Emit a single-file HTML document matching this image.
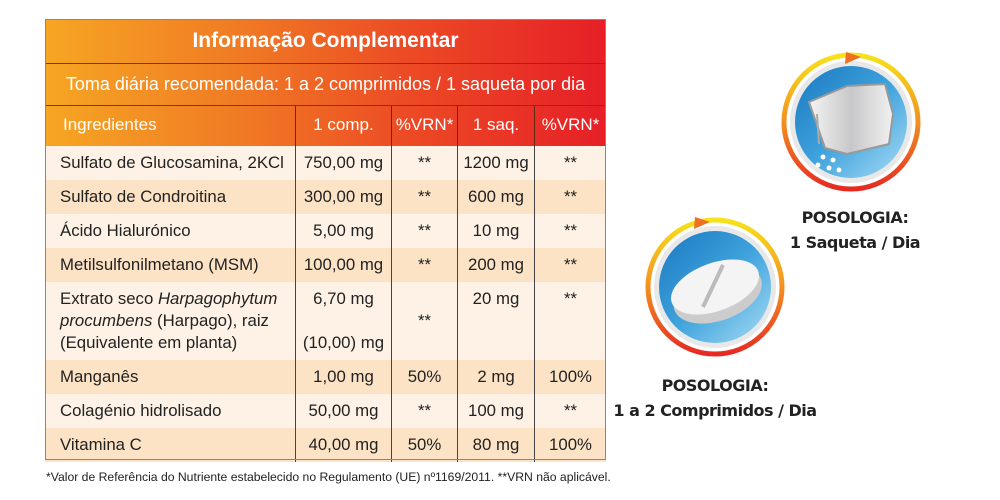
<!DOCTYPE html>
<html><head><meta charset="utf-8"><style>
body{margin:0;width:1000px;height:500px;background:#fff;position:relative;overflow:hidden;font-family:"Liberation Sans",sans-serif;}
.t{position:absolute;left:45px;top:19px;width:561px;}
.grad{background:linear-gradient(90deg,#f6a623 0%,#f07a24 35%,#ec4a25 65%,#e61f26 100%);color:#fff;}
.title{height:44px;line-height:44px;text-align:center;font-size:21px;font-weight:bold;border-bottom:1px solid #7a3a10;}
.sub{height:41px;line-height:41px;text-align:center;font-size:18px;border-bottom:1px solid #7a3a10;}
.row{display:flex;font-size:16.8px;color:#222;}
.row>div{box-sizing:border-box;border-right:1px solid #444;}
.row>div:last-child{border-right:none;}
.c0{width:251px;padding-left:15px;white-space:nowrap}
.c1{width:96px;text-align:center}
.c2{width:66px;text-align:center}
.c3{width:77px;text-align:center}
.c4{width:71px;text-align:center}
.hdr{height:40px;line-height:38px;font-size:17px;color:#fff}
.hdr>div{border-right-color:#6a2a10}
.a{background:#fdf2e5}.b{background:#fde3c6}
.r{height:34px;line-height:34px}
.box{position:absolute;left:45px;top:19px;width:561px;height:441px;border:1px solid #888;box-sizing:border-box;pointer-events:none}
.fn{position:absolute;left:46px;top:470px;font-size:12.2px;color:#222;}
.cap{position:absolute;text-align:center;font-weight:bold;font-size:16px;color:#222;line-height:25px;font-family:"DejaVu Sans",sans-serif;letter-spacing:-0.5px}
</style></head><body>
<div class="t">
<div class="grad title">Informação Complementar</div>
<div class="grad sub">Toma diária recomendada: 1 a 2 comprimidos / 1 saqueta por dia</div>
<div class="grad row hdr"><div class="c0" style="padding-left:18px">Ingredientes</div><div class="c1">1 comp.</div><div class="c2">%VRN*</div><div class="c3">1 saq.</div><div class="c4">%VRN*</div></div>
<div class="row r a"><div class="c0">Sulfato de Glucosamina, 2KCl</div><div class="c1">750,00 mg</div><div class="c2">**</div><div class="c3">1200 mg</div><div class="c4">**</div></div>
<div class="row r b"><div class="c0">Sulfato de Condroitina</div><div class="c1">300,00 mg</div><div class="c2">**</div><div class="c3">600 mg</div><div class="c4">**</div></div>
<div class="row r a"><div class="c0">Ácido Hialurónico</div><div class="c1">5,00 mg</div><div class="c2">**</div><div class="c3">10 mg</div><div class="c4">**</div></div>
<div class="row r b"><div class="c0">Metilsulfonilmetano (MSM)</div><div class="c1">100,00 mg</div><div class="c2">**</div><div class="c3">200 mg</div><div class="c4">**</div></div>
<div class="row a" style="height:78px;line-height:22px"><div class="c0" style="padding-top:6px">Extrato seco <i>Harpagophytum</i><br><i>procumbens</i> (Harpago), raiz<br>(Equivalente em planta)</div><div class="c1" style="padding-top:6px">6,70 mg<br><br>(10,00) mg</div><div class="c2" style="padding-top:28px">**</div><div class="c3" style="padding-top:6px">20 mg</div><div class="c4" style="padding-top:6px">**</div></div>
<div class="row r b"><div class="c0">Manganês</div><div class="c1">1,00 mg</div><div class="c2">50%</div><div class="c3">2 mg</div><div class="c4">100%</div></div>
<div class="row r a"><div class="c0">Colagénio hidrolisado</div><div class="c1">50,00 mg</div><div class="c2">**</div><div class="c3">100 mg</div><div class="c4">**</div></div>
<div class="row r b"><div class="c0">Vitamina C</div><div class="c1">40,00 mg</div><div class="c2">50%</div><div class="c3">80 mg</div><div class="c4">100%</div></div>
</div>
<div class="box"></div>
<div class="fn">*Valor de Referência do Nutriente estabelecido no Regulamento (UE) nº1169/2011. **VRN não aplicável.</div>

<svg style="position:absolute;left:0;top:0" width="1000" height="500">
<defs>
<linearGradient id="ring" x1="0" y1="0" x2="0" y2="1"><stop offset="0" stop-color="#f7e21c"/><stop offset="0.5" stop-color="#f39020"/><stop offset="1" stop-color="#e62a22"/></linearGradient>
<linearGradient id="blue" x1="0" y1="0" x2="1" y2="1"><stop offset="0" stop-color="#1a78c0"/><stop offset="0.5" stop-color="#3ea2dc"/><stop offset="1" stop-color="#a8dcf5"/></linearGradient>
<linearGradient id="sil" x1="0" y1="0" x2="1" y2="0"><stop offset="0" stop-color="#f4f4f4"/><stop offset="0.5" stop-color="#c8c8ca"/><stop offset="1" stop-color="#f0f0f0"/></linearGradient>
</defs>
<g transform="translate(851,122)">
<circle r="67" fill="none" stroke="url(#ring)" stroke-width="5"/>
<circle r="61" fill="#e8e8e8"/>
<circle r="56" fill="url(#blue)"/>
<polygon points="-42,-20 -4,-36 34,-38 42,-8 38,22 -4,32 -26,26" fill="url(#sil)" stroke="#999" stroke-width="2"/>
<line x1="-34" y1="-8" x2="-32" y2="22" stroke="#aaa" stroke-width="2"/>
<g fill="#fff"><circle cx="-28" cy="35" r="2.5"/><circle cx="-18" cy="38" r="2.5"/><circle cx="-22" cy="46" r="2.5"/><circle cx="-12" cy="48" r="2.5"/><circle cx="-33" cy="43" r="2.5"/></g>
<polygon points="-5,-70 10,-65 -6,-58" fill="#f07020"/>
</g>
<g transform="translate(715,287)">
<circle r="67" fill="none" stroke="url(#ring)" stroke-width="5"/>
<circle r="61" fill="#e8e8e8"/>
<circle r="56" fill="url(#blue)"/>
<ellipse cx="0" cy="8" rx="46" ry="26" transform="rotate(-20)" fill="#ccc"/>
<ellipse cx="0" cy="0" rx="46" ry="24" transform="rotate(-20)" fill="#f4f4f4"/>
<line x1="-12" y1="20" x2="8" y2="-22" stroke="#bbb" stroke-width="4"/>
<polygon points="-20,-70 -5,-65 -21,-58" fill="#f07020"/>
</g>
</svg>
<div class="cap" style="left:775px;top:205px;width:160px">POSOLOGIA:<br>1 Saqueta / Dia</div>
<div class="cap" style="left:605px;top:373px;width:220px">POSOLOGIA:<br>1 a 2 Comprimidos / Dia</div>
</body></html>
